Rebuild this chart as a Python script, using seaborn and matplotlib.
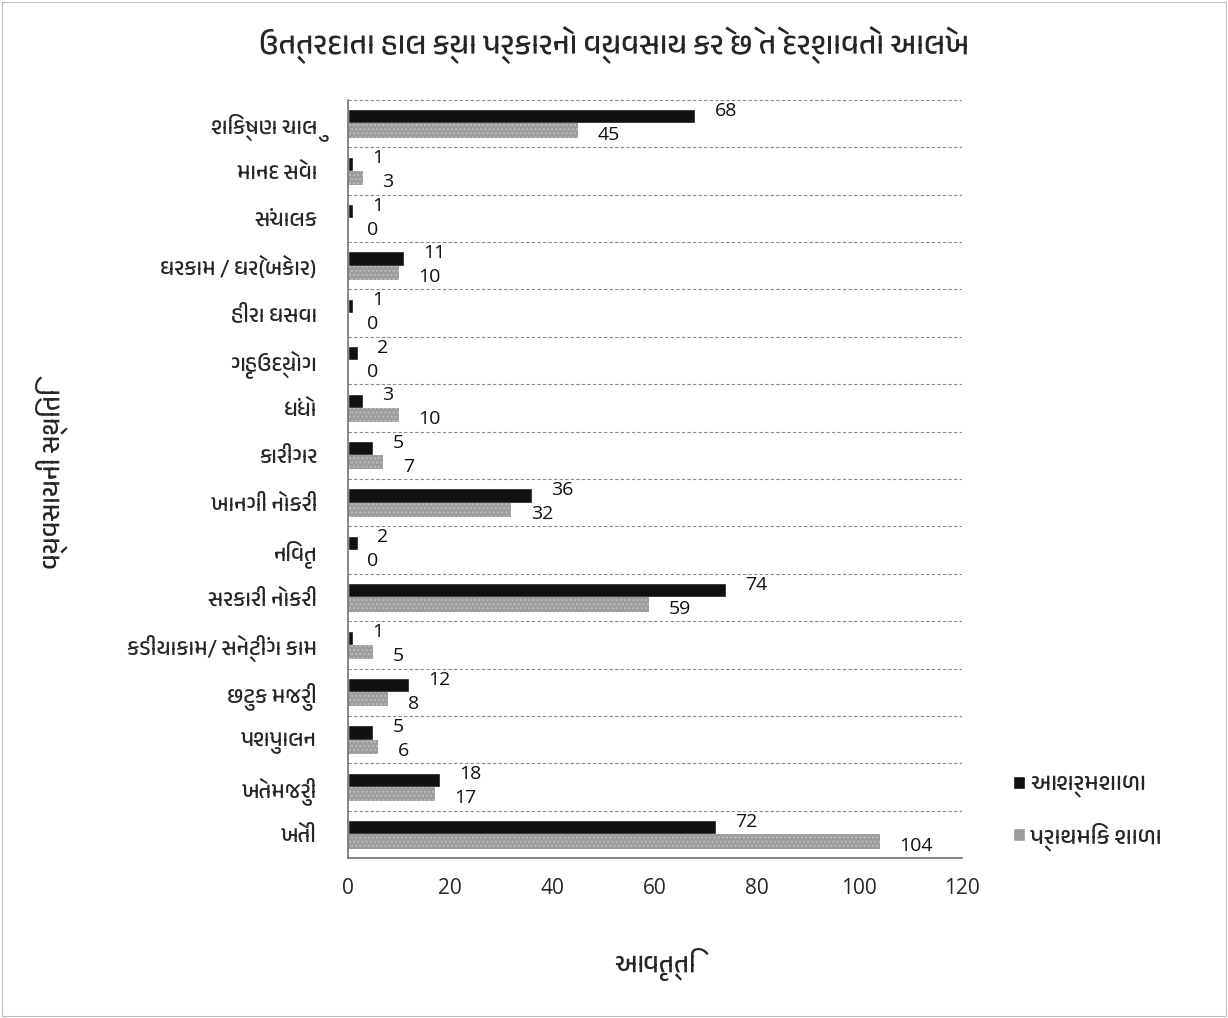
import pandas as pd
import matplotlib
matplotlib.use("Agg")
import matplotlib.pyplot as plt
import seaborn as sns
from matplotlib import font_manager
from matplotlib.patches import Rectangle
from matplotlib.ticker import FixedLocator

categories = [
    "શિક્ષણ ચાલુ", "માનદ સેવા", "સંચાલક", "ઘરકામ / ઘરે(બેકાર)", "હીરા ઘસવા",
    "ગૃહઉદ્યોગ", "ધંધો", "કારીગર", "ખાનગી નોકરી", "નિવૃત", "સરકારી નોકરી",
    "કડીયાકામ/ સેન્ટીંગ કામ", "છુટક મજુરી", "પશુપાલન", "ખેતમજુરી", "ખેતી",
]
ashram = [68, 1, 1, 11, 1, 2, 3, 5, 36, 2, 74, 1, 12, 5, 18, 72]
prathmik = [45, 3, 0, 10, 0, 0, 10, 7, 32, 0, 59, 5, 8, 6, 17, 104]
series = ["આશ્રમશાળા", "પ્રાથમિક શાળા"]
x_ticks = [0, 20, 40, 60, 80, 100, 120]

title = "ઉત્તરદાતા હાલ ક્યા પ્રકારનો વ્યવસાય કરે છે તે દર્શાવતો આલેખ"
ylabel = "વ્યવસાયની સ્થિતિ"
xlabel = "આવૃત્તિ"

df = pd.DataFrame({
    "category": categories * 2,
    "value": ashram + prathmik,
    "series": [series[0]] * len(categories) + [series[1]] * len(categories),
})

sns.set_theme(style="white")
# look for a font that actually has Gujarati glyphs
guj = [f.name for f in font_manager.fontManager.ttflist
       if "gujarati" in f.name.lower() or "lohit" in f.name.lower()
       or "shruti" in f.name.lower()]
guj = list(dict.fromkeys(guj))
families = guj + ["Noto Sans", "DejaVu Sans"]
num_font = ["Open Sans", "DejaVu Sans"]
plt.rcParams["font.family"] = families

fig = plt.figure(figsize=(12.28, 10.18), dpi=100)
ax = fig.add_axes([0.283, 0.157, 0.500, 0.745])

sns.barplot(
    data=df, y="category", x="value", hue="series", hue_order=series,
    order=categories, orient="h", palette=["#111111", "#9c9c9c"],
    width=0.6, ax=ax, legend=True,
)
for bar in ax.containers[1]:
    bar.set_hatch("....")
    bar.set_edgecolor("#bdbdbd")
    bar.set_linewidth(0)

# black series labels sit a touch higher, grey ones a touch lower
for cont, dy in zip(ax.containers, [-4, 3]):
    labels = ax.bar_label(cont, padding=14, fontsize=14, color="#111111")
    for t in labels:
        t.set_fontfamily(num_font)
        x0, y0 = t.xyann
        t.xyann = (x0, y0 - dy)

ax.set_xlim(0, 120)
ax.set_xticks(x_ticks)
ax.set_xticklabels([str(t) for t in x_ticks], fontsize=15, fontfamily=num_font)
ax.set_ylim(len(categories) - 0.5, -0.5)
ax.yaxis.set_minor_locator(FixedLocator([i - 0.5 for i in range(len(categories) + 1)]))
ax.grid(True, which="minor", axis="y", color="#8a8a8a", linestyle=(0, (3, 2)), linewidth=0.8)
ax.grid(False, which="major")
ax.tick_params(axis="y", which="both", length=0, labelsize=16, pad=22)
ax.tick_params(axis="x", length=0, pad=14)

for side in ["top", "right"]:
    ax.spines[side].set_visible(False)
ax.spines["left"].set_color("#777777")
ax.spines["bottom"].set_color("#777777")

ax.set_xlabel(xlabel, fontsize=19)
ax.xaxis.set_label_coords(0.5, -0.118)
ax.set_ylabel(ylabel, fontsize=19)
ax.yaxis.set_label_coords(-0.455, 0.5)
fig.suptitle(title, fontsize=22, y=0.975)

ax.legend(loc="center left", bbox_to_anchor=(1.05, 0.06), frameon=False,
          fontsize=17, handlelength=0.5, handleheight=0.5, handletextpad=0.2,
          labelspacing=1.0)

fig.patches.append(Rectangle((0.002, 0.002), 0.996, 0.996, transform=fig.transFigure,
                             fill=False, edgecolor="#bbbbbb", linewidth=0.8))

fig.savefig("out.png", dpi=100)
